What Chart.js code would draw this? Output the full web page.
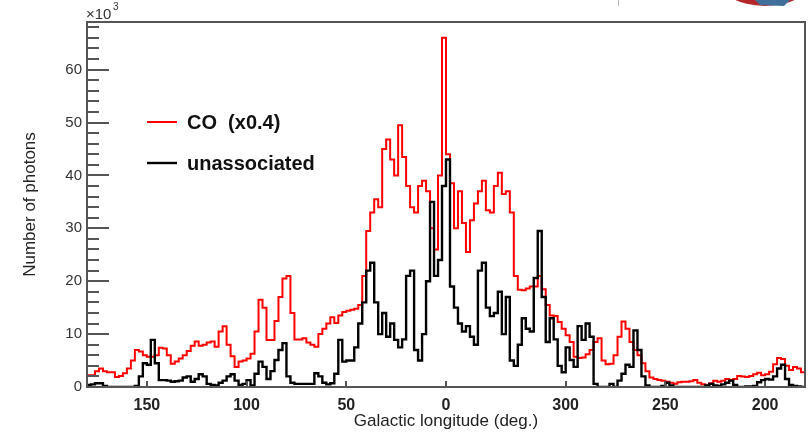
<!DOCTYPE html>
<html>
<head>
<meta charset="utf-8">
<script src="https://cdn.jsdelivr.net/npm/chart.js@4/dist/chart.umd.min.js"></script>
<style>
html,body{margin:0;padding:0;background:#fff;}
canvas{display:block;}
</style>
</head>
<body>
<canvas id="c" width="812" height="432"></canvas>
<script>
// Histogram binning (galactic longitude, left edge = +180, going right to -180)
const binStart = 180;
const binWidth = 2;

// CO (x0.4), thousands of photons per 2-degree bin, from l=180 down to l=-180
const coValues = [
  2.2,2.2,3.0,3.5,3.0,2.8,2.8,1.9,2.1,2.6,
  3.5,5.0,7.0,6.7,6.0,5.7,5.7,6.0,7.4,7.3,
  6.0,4.4,4.8,5.4,6.0,6.8,7.8,8.6,7.8,8.0,
  8.4,8.6,7.6,10.5,11.5,8.0,5.8,3.8,4.8,5.0,
  5.4,6.3,10.5,16.5,15.0,8.9,8.9,12.5,17.0,20.5,
  21.0,14.0,9.0,9.0,9.2,8.4,8.0,7.6,10.0,11.0,
  12.0,13.2,12.1,13.5,14.2,14.4,14.6,14.8,15.5,21.0,
  29.5,33.0,35.5,34.0,45.0,46.8,43.0,40.0,49.5,43.5,
  38.0,34.0,33.0,38.0,39.0,37.0,30.0,26.0,40.0,66.0,
  44.0,38.5,30.0,37.0,31.0,25.5,31.5,34.7,37.0,39.0,
  33.4,33.0,38.0,40.5,36.5,37.0,33.0,21.0,18.4,18.3,
  18.6,19.0,19.0,21.0,18.5,15.5,13.5,13.4,12.3,11.0,
  9.8,8.5,5.7,5.5,5.6,6.2,7.0,8.5,9.2,5.0,
  4.3,4.4,6.0,9.5,12.4,11.0,8.5,7.0,6.0,4.5,
  3.0,1.8,1.5,1.3,1.2,1.0,0.8,0.6,0.9,1.0,
  1.0,1.1,1.3,0.8,0.5,0.3,0.7,1.2,1.0,1.2,
  1.5,1.3,1.5,2.1,2.0,1.9,2.1,2.4,2.7,2.2,
  2.4,2.9,4.3,5.5,5.3,4.0,3.2,3.8,3.5,2.8
];

// unassociated, thousands of photons per 2-degree bin
const unassocValues = [
  0.4,0.5,0.7,0.7,0.2,0,0,0,0,0,
  0,0,0.2,2.0,4.5,4.2,8.9,4.5,1.3,1.3,
  1.2,1.0,1.1,1.2,1.8,2.0,1.0,1.5,2.4,2.0,
  0.6,0.4,0.3,0.8,1.2,2.0,2.4,1.2,0.4,0.6,
  1.3,0.3,2.5,4.8,3.8,1.5,3.0,5.1,7.0,8.3,
  2.0,0.8,0.6,0.6,0.6,0.6,0.6,2.6,2.0,0.8,
  0.5,0.7,2.5,8.9,4.8,5.0,5.0,7.5,12.0,16.0,
  22.0,23.5,16.0,10.0,14.0,9.5,12.0,8.9,7.5,9.0,
  21.0,22.0,7.0,5.0,10.0,20.0,35.0,21.0,24.0,38.0,
  43.0,19.0,15.0,12.0,10.5,11.5,9.5,8.0,22.0,23.5,
  15.0,13.4,14.0,18.0,10.0,17.0,5.0,4.0,8.0,13.0,
  11.0,10.5,20.6,29.5,17.0,8.5,13.0,9.0,4.0,2.8,
  7.5,5.1,3.8,11.5,8.9,12.0,9.5,0.6,0,0,
  0,0.6,0,1.2,2.5,4.2,3.8,10.7,7.0,2.0,
  0.3,0,0,0,0.2,0.8,0.3,0,0,0,
  0,0,0,0,0,0.3,0.6,0.3,0.2,0.5,
  0.8,1.2,0.4,0,0,0.1,0.1,0.2,0.9,1.3,
  1.5,1.4,2.0,3.5,4.2,1.5,0.4,0.2,0.1,0
];

// Axis tick labels
const xTickLabels = [150, 100, 50, 0, 300, 250, 200];
const yTickLabels = [0, 10, 20, 30, 40, 50, 60];
const yMax = 69;

const legendLabels = ['CO  (x0.4)', 'unassociated'];
const legendColors = ['#ff0000', '#000000'];

function toSigned(l) { return l > 180 ? l - 360 : l; }
function toLabel(v) { return v < 0 ? v + 360 : v; }

function histPoints(values) {
  const pts = values.map((v, i) => ({ x: binStart - binWidth * i, y: v }));
  pts.push({ x: binStart - binWidth * values.length, y: values[values.length - 1] });
  return pts;
}

const FONT = "'Liberation Sans', Arial, sans-serif";

const framePlugin = {
  id: 'frame',
  beforeDraw(chart) {
    const ctx = chart.ctx;
    ctx.save();
    ctx.fillStyle = '#ffffff';
    ctx.fillRect(0, 0, chart.width, chart.height);
    ctx.restore();
  },
  afterDraw(chart) {
    const { ctx, chartArea: { left, right, top, bottom }, scales: { x, y } } = chart;
    ctx.save();
    // frame
    ctx.strokeStyle = '#555';
    ctx.lineWidth = 2;
    ctx.strokeRect(left, top, right - left, bottom - top);
    // y ticks (major every 10, minor every 2)
    ctx.lineWidth = 2;
    ctx.beginPath();
    for (let v = 0; v <= yMax; v += 2) {
      const py = Math.round(y.getPixelForValue(v));
      const len = (v % 10 === 0) ? 22 : 12;
      ctx.moveTo(left, py);
      ctx.lineTo(left + len, py);
    }
    // x ticks
    xTickLabels.forEach(l => {
      const px = Math.round(x.getPixelForValue(toSigned(l)));
      ctx.moveTo(px, bottom);
      ctx.lineTo(px, bottom - 6);
    });
    ctx.stroke();

    // exponent label
    ctx.fillStyle = '#333';
    ctx.textBaseline = 'alphabetic';
    ctx.textAlign = 'left';
    ctx.font = '15px ' + FONT;
    ctx.fillText('\u00d710', 86, 19);
    ctx.font = '10px ' + FONT;
    ctx.fillText('3', 113, 10);

    // legend
    const ly = [122, 163];
    legendLabels.forEach((t, i) => {
      ctx.strokeStyle = legendColors[i];
      ctx.lineWidth = i === 0 ? 2 : 2.4;
      ctx.beginPath();
      ctx.moveTo(147, ly[i]);
      ctx.lineTo(177, ly[i]);
      ctx.stroke();
      ctx.fillStyle = '#111';
      ctx.font = 'bold 20px ' + FONT;
      ctx.textBaseline = 'middle';
      ctx.fillText(t, 187, ly[i] + 1);
    });

    // fragment of a logo at the top right of the picture
    ctx.fillStyle = '#b3262a';
    ctx.beginPath();
    ctx.ellipse(765, -22, 48, 28, 0, 0, Math.PI * 2);
    ctx.fill();
    ctx.fillStyle = '#3f6f9a';
    ctx.beginPath();
    ctx.moveTo(755, 0); ctx.lineTo(790, 0); ctx.lineTo(784, 6); ctx.lineTo(760, 5);
    ctx.closePath();
    ctx.fill();
    ctx.strokeStyle = '#bbb';
    ctx.lineWidth = 1;
    ctx.beginPath();
    ctx.moveTo(618.5, 0); ctx.lineTo(618.5, 6);
    ctx.stroke();
    ctx.restore();
  }
};

new Chart(document.getElementById('c'), {
  type: 'line',
  data: {
    datasets: [
      {
        label: legendLabels[1],
        data: histPoints(unassocValues),
        borderColor: '#000000',
        borderWidth: 2.4,
        stepped: 'before',
        pointRadius: 0,
        fill: false,
        order: 1
      },
      {
        label: legendLabels[0],
        data: histPoints(coValues),
        borderColor: '#ff0000',
        borderWidth: 2,
        stepped: 'before',
        pointRadius: 0,
        fill: false,
        order: 2
      }
    ]
  },
  options: {
    responsive: false,
    animation: false,
    devicePixelRatio: 1,
    layout: { padding: { left: 0, right: 7, top: 22, bottom: 0 } },
    plugins: { legend: { display: false }, tooltip: { enabled: false } },
    scales: {
      x: {
        type: 'linear',
        min: -180,
        max: 180,
        reverse: true,
        afterBuildTicks(scale) { scale.ticks = xTickLabels.map(l => ({ value: toSigned(l) })); },
        afterFit(scale) { scale.height = 45; },
        grid: { display: false, drawTicks: false },
        border: { display: false },
        ticks: {
          autoSkip: false,
          maxRotation: 0,
          padding: 9,
          color: '#222',
          font: { family: FONT, size: 16, weight: 'bold' },
          callback: v => String(toLabel(v))
        },
        title: {
          display: true,
          text: 'Galactic longitude (deg.)',
          color: '#222',
          font: { family: FONT, size: 17 },
          padding: { top: 0, bottom: 0 }
        }
      },
      y: {
        type: 'linear',
        min: 0,
        max: yMax,
        afterBuildTicks(scale) { scale.ticks = yTickLabels.map(v => ({ value: v })); },
        afterFit(scale) { scale.width = 87; },
        grid: { display: false, drawTicks: false },
        border: { display: false },
        ticks: {
          padding: 5,
          color: '#333',
          font: { family: FONT, size: 15 }
        },
        title: {
          display: true,
          text: 'Number of photons',
          color: '#222',
          font: { family: FONT, size: 17 },
          padding: { top: 20, bottom: 0 }
        }
      }
    }
  },
  plugins: [framePlugin]
});
</script>
</body>
</html>
